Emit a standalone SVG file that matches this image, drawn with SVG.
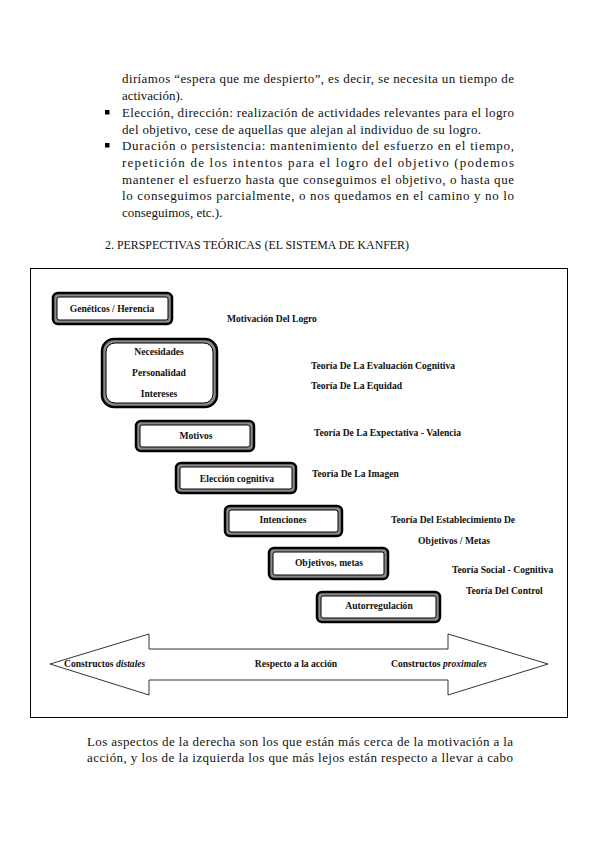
<svg xmlns="http://www.w3.org/2000/svg" width="599" height="848" viewBox="0 0 599 848">
<style>
.p{font-family:"Liberation Serif","DejaVu Serif",serif;font-size:13px;fill:#111}
.d{font-family:"Liberation Serif","DejaVu Serif",serif;font-size:9.6px;font-weight:bold;fill:#111}
.c{text-anchor:middle}
.bo{fill:#888;stroke:#000;stroke-width:2.5}
.bi{fill:#fff;stroke:#000;stroke-width:1}
</style>
<rect width="599" height="848" fill="#fff"/>
<g id="paragraph">
<text class="p" x="122" y="83" textLength="392" lengthAdjust="spacing">diríamos “espera que me despierto”, es decir, se necesita un tiempo de</text>
<text class="p" x="122" y="100">activación).</text>
<rect x="105" y="110" width="4.5" height="4.5" fill="#000"/>
<text class="p" x="122" y="117" textLength="392" lengthAdjust="spacing">Elección, dirección: realización de actividades relevantes para el logro</text>
<text class="p" x="122" y="134" textLength="359" lengthAdjust="spacing">del objetivo, cese de aquellas que alejan al individuo de su logro.</text>
<rect x="105" y="143" width="4.5" height="4.5" fill="#000"/>
<text class="p" x="122" y="150" textLength="392" lengthAdjust="spacing">Duración o persistencia: mantenimiento del esfuerzo en el tiempo,</text>
<text class="p" x="122" y="167" textLength="392" lengthAdjust="spacing">repetición de los intentos para el logro del objetivo (podemos</text>
<text class="p" x="122" y="184" textLength="392" lengthAdjust="spacing">mantener el esfuerzo hasta que conseguimos el objetivo, o hasta que</text>
<text class="p" x="122" y="200" textLength="392" lengthAdjust="spacing">lo conseguimos parcialmente, o nos quedamos en el camino y no lo</text>
<text class="p" x="122" y="217">conseguimos, etc.).</text>
<text class="p" x="105" y="249" textLength="304" lengthAdjust="spacingAndGlyphs">2.  PERSPECTIVAS TEÓRICAS (EL SISTEMA DE KANFER)</text>
</g>
<rect id="frame" x="30.5" y="268.5" width="537" height="449" fill="none" stroke="#000" stroke-width="1"/>
<g id="genetics">
<rect class="bo" x="53" y="293" width="119" height="31" rx="5"/>
<rect class="bi" x="57" y="297" width="111" height="23" rx="2"/>
<text class="d c" x="112" y="312">Genéticos / Herencia</text>
</g>
<g id="needs">
<rect class="bo" x="102" y="339" width="115" height="68" rx="12"/>
<rect class="bi" x="106" y="343" width="107" height="60" rx="9"/>
<text class="d c" x="159" y="355">Necesidades</text>
<text class="d c" x="159" y="376">Personalidad</text>
<text class="d c" x="159" y="397">Intereses</text>
</g>
<g id="motivos">
<rect class="bo" x="136" y="421" width="118" height="30" rx="5"/>
<rect class="bi" x="140" y="425" width="110" height="22" rx="2"/>
<text class="d c" x="196" y="439">Motivos</text>
</g>
<g id="eleccion">
<rect class="bo" x="176" y="463" width="120" height="30" rx="5"/>
<rect class="bi" x="180" y="467" width="112" height="22" rx="2"/>
<text class="d c" x="237" y="482">Elección cognitiva</text>
</g>
<g id="intenciones">
<rect class="bo" x="225" y="506" width="117" height="30" rx="5"/>
<rect class="bi" x="229" y="510" width="109" height="22" rx="2"/>
<text class="d c" x="283" y="523">Intenciones</text>
</g>
<g id="objetivos">
<rect class="bo" x="269" y="548" width="119" height="31" rx="5"/>
<rect class="bi" x="273" y="552" width="111" height="23" rx="2"/>
<text class="d c" x="329" y="566">Objetivos, metas</text>
</g>
<g id="autorregulacion">
<rect class="bo" x="317" y="592" width="123" height="30" rx="5"/>
<rect class="bi" x="321" y="596" width="115" height="22" rx="2"/>
<text class="d c" x="379" y="609">Autorregulación</text>
</g>
<g id="theories">
<text class="d" x="227" y="322">Motivación Del Logro</text>
<text class="d" x="311" y="369">Teoría De La Evaluación Cognitiva</text>
<text class="d" x="311" y="389">Teoría De La Equidad</text>
<text class="d" x="314" y="436">Teoría De La Expectativa -  Valencia</text>
<text class="d" x="312" y="477">Teoría De La Imagen</text>
<text class="d" x="391" y="523">Teoría Del Establecimiento De</text>
<text class="d" x="418" y="544">Objetivos / Metas</text>
<text class="d" x="452" y="573">Teoría Social - Cognitiva</text>
<text class="d" x="466" y="594">Teoría Del Control</text>
</g>
<g id="connectors">
<path d="M50,664 L149,634 L149,649 L448,649 L448,634 L548,664 L448,695 L448,680 L149,680 L149,695 Z" fill="#fff" stroke="#333" stroke-width="1"/>
</g>
<g id="arrow-labels">
<text class="d" x="64" y="667">Constructos <tspan font-style="italic">distales</tspan></text>
<text class="d c" x="296" y="667">Respecto a la acción</text>
<text class="d" x="391" y="667">Constructos <tspan font-style="italic">proximales</tspan></text>
</g>
<g id="caption">
<text class="p" x="87" y="746" textLength="426" lengthAdjust="spacing">Los aspectos de la derecha son los que están más cerca de la motivación a la</text>
<text class="p" x="87" y="762" textLength="426" lengthAdjust="spacing">acción, y los de la izquierda los que más lejos están respecto a llevar a cabo</text>
</g>
</svg>
